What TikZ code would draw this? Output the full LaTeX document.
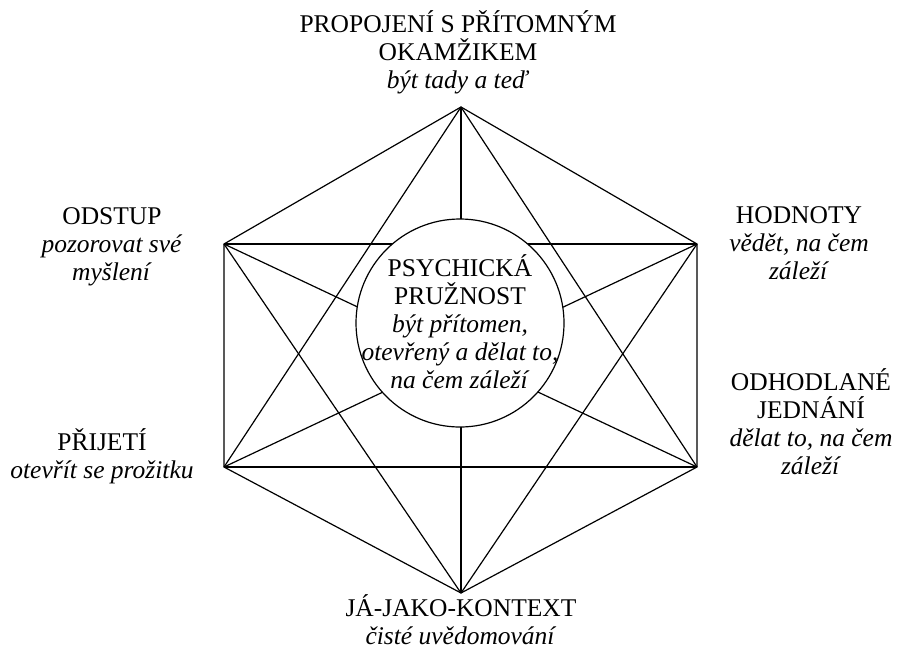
\documentclass[tikz,border=0pt]{standalone}
\usepackage{fontspec}
\setmainfont{Liberation Serif}
\begin{document}
\begin{tikzpicture}[x=1pt,y=-1pt,
  edge/.style={line width=1.2pt, black},
  lbl/.style={align=center, anchor=base, inner sep=0pt, font=\fontsize{25.5}{28}\selectfont},
  hub/.style={circle, draw, line width=1.2pt, fill=white, minimum size=208pt, inner sep=0pt}]
\useasboundingbox[fill=white] (0,0) rectangle (901,651);
\coordinate (T) at (461,107);
\coordinate (UR) at (697,244);
\coordinate (LR) at (697,467);
\coordinate (B) at (461,593);
\coordinate (LL) at (224,467);
\coordinate (UL) at (224,244);
% all 15 connections
\draw[edge] (T) -- (UR) -- (LR) -- (B) -- (LL) -- (UL) -- cycle;
\draw[edge] (UL) -- (UR);
\draw[edge] (LL) -- (LR);
\draw[edge] (T) -- (LL);
\draw[edge] (T) -- (LR);
\draw[edge] (B) -- (UL);
\draw[edge] (B) -- (UR);
\draw[edge] (UL) -- (LR);
\draw[edge] (UR) -- (LL);
\draw[edge] (T) -- (B);
\node[hub] (c) at (460,323) {};
% anchor=base is the baseline of the last line
\node[lbl] (ct) at (460,388) {PSYCHICKÁ\\PRUŽNOST\\\textit{být přítomen,}\\\textit{otevřený a dělat to,}\\\textit{na čem záleží}};
\node[lbl] (lt) at (458,88) {PROPOJENÍ S PŘÍTOMNÝM\\OKAMŽIKEM\\\textit{být tady a teď}};
\node[lbl] (lul) at (112,280) {ODSTUP\\\textit{pozorovat své}\\\textit{myšlení}};
\node[lbl] (lll) at (102,478) {PŘIJETÍ\\\textit{otevřít se prožitku}};
\node[lbl] (lur) at (799,279) {HODNOTY\\\textit{vědět, na čem}\\\textit{záleží}};
\node[lbl] (llr) at (811,474) {ODHODLANÉ\\JEDNÁNÍ\\\textit{dělat to, na čem}\\\textit{záleží}};
\node[lbl] (lb) at (461,644) {JÁ-JAKO-KONTEXT\\\textit{čisté uvědomování}};
\end{tikzpicture}
\end{document}
